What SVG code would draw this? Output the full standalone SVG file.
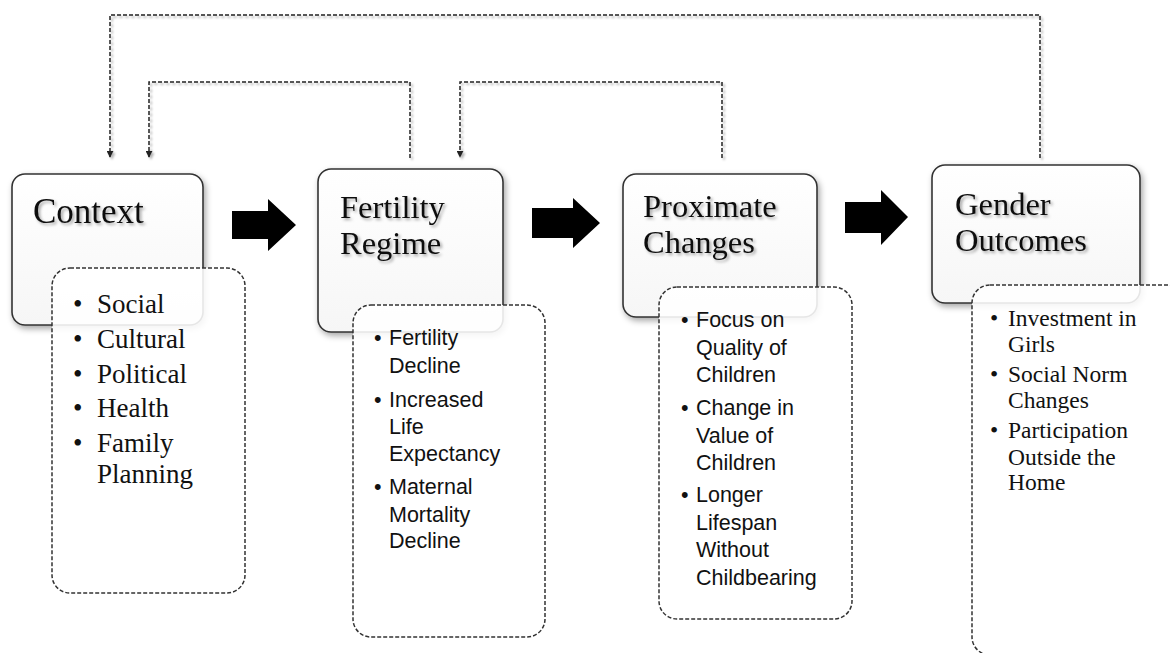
<svg xmlns="http://www.w3.org/2000/svg" width="1170" height="653" viewBox="0 0 1170 653">
<defs>
<filter id="shadow" x="-10%" y="-10%" width="130%" height="130%">
<feDropShadow dx="2" dy="3" stdDeviation="3" flood-color="#000" flood-opacity="0.35"/>
</filter>
<filter id="tshadow" x="-10%" y="-20%" width="130%" height="150%">
<feDropShadow dx="2" dy="2" stdDeviation="1.5" flood-color="#000" flood-opacity="0.35"/>
</filter>
<filter id="lshadow" x="-5%" y="-50%" width="110%" height="200%">
<feDropShadow dx="2" dy="2" stdDeviation="1" flood-color="#000" flood-opacity="0.3"/>
</filter>
<marker id="ah" viewBox="0 0 10 10" refX="9" refY="5" markerWidth="7" markerHeight="7" markerUnits="userSpaceOnUse" orient="auto">
<path d="M0,0 L10,5 L0,10 z" fill="#222"/>
</marker>
<linearGradient id="boxfill" x1="0" y1="0" x2="0" y2="1">
<stop offset="0" stop-color="#ffffff"/>
<stop offset="1" stop-color="#f6f6f6"/>
</linearGradient>
</defs>
<style>
.box{fill:url(#boxfill);stroke:#333;stroke-width:1.6;filter:url(#shadow)}
.dbox{fill:#fff;fill-opacity:0.88;stroke:#333;stroke-width:1.5;stroke-dasharray:4 2}
.title{font-family:"Liberation Serif","Times New Roman",serif;font-size:32.5px;fill:#111;filter:url(#tshadow)}
.title1{font-family:"Liberation Serif","Times New Roman",serif;font-size:35px;fill:#111;filter:url(#tshadow)}
.serif{font-family:"Liberation Serif","Times New Roman",serif;font-size:27px;fill:#111}
.serif2{font-family:"Liberation Serif","Times New Roman",serif;font-size:23.5px;fill:#111}
.sans{font-family:"Liberation Sans",Arial,sans-serif;font-size:21.5px;fill:#111}
.conn{fill:none;stroke:#222;stroke-width:1.5;stroke-dasharray:4 2;filter:url(#lshadow)}
.arrow{fill:#000}
</style>
<rect width="1170" height="653" fill="#fff"/>

<g id="connectors">
<polyline class="conn" points="1040,158 1040,15 110,15 110,157" marker-end="url(#ah)"/>
<polyline class="conn" points="410,158 410,82 149,82 149,157" marker-end="url(#ah)"/>
<polyline class="conn" points="722,158 722,82 460,82 460,157" marker-end="url(#ah)"/>
<path class="arrow" d="M232,211 L268,211 L268,199 L296,225 L268,251 L268,239 L232,239 Z"/>
<path class="arrow" d="M532,208 L573,208 L573,198 L600,223 L573,248 L573,238 L532,238 Z"/>
<path class="arrow" d="M845,202 L881,202 L881,190 L908,217 L881,245 L881,233 L845,233 Z"/>
</g>

<g id="context">
<rect class="box" x="12" y="174" width="191" height="151" rx="13"/>
<text class="title1" x="33" y="223">Context</text>
<rect class="dbox" x="52" y="268" width="193" height="325" rx="18"/>
<g class="serif">
<text x="73" y="313">•</text><text x="97" y="313">Social</text>
<text x="73" y="348">•</text><text x="97" y="348">Cultural</text>
<text x="73" y="383">•</text><text x="97" y="383">Political</text>
<text x="73" y="417">•</text><text x="97" y="417">Health</text>
<text x="73" y="452">•</text><text x="97" y="452">Family</text>
<text x="97" y="483">Planning</text>
</g>
</g>

<g id="fertility">
<rect class="box" x="318" y="169" width="185" height="163" rx="13"/>
<text class="title" x="340" y="218">Fertility</text>
<text class="title" x="340" y="254">Regime</text>
<rect class="dbox" x="353" y="305" width="192" height="332" rx="18"/>
<g class="sans">
<text x="374" y="345">•</text><text x="389" y="345">Fertility</text>
<text x="389" y="373">Decline</text>
<text x="374" y="407">•</text><text x="389" y="407">Increased</text>
<text x="389" y="434">Life</text>
<text x="389" y="461">Expectancy</text>
<text x="374" y="494">•</text><text x="389" y="494">Maternal</text>
<text x="389" y="522">Mortality</text>
<text x="389" y="548">Decline</text>
</g>
</g>

<g id="proximate">
<rect class="box" x="623" y="174" width="194" height="143" rx="13"/>
<text class="title" x="643" y="217">Proximate</text>
<text class="title" x="643" y="253">Changes</text>
<rect class="dbox" x="659" y="287" width="193" height="332" rx="18"/>
<g class="sans">
<text x="681" y="327">•</text><text x="696" y="327">Focus on</text>
<text x="696" y="355">Quality of</text>
<text x="696" y="382">Children</text>
<text x="681" y="415">•</text><text x="696" y="415">Change in</text>
<text x="696" y="443">Value of</text>
<text x="696" y="470">Children</text>
<text x="681" y="502">•</text><text x="696" y="502">Longer</text>
<text x="696" y="530">Lifespan</text>
<text x="696" y="557">Without</text>
<text x="696" y="585">Childbearing</text>
</g>
</g>

<g id="gender">
<rect class="box" x="932" y="165" width="208" height="138" rx="13"/>
<text class="title" x="955" y="215">Gender</text>
<text class="title" x="955" y="251">Outcomes</text>
<rect class="dbox" x="972" y="285" width="215" height="370" rx="18"/>
<g class="serif2">
<text x="990" y="326">•</text><text x="1008" y="326">Investment in</text>
<text x="1008" y="352">Girls</text>
<text x="990" y="382">•</text><text x="1008" y="382">Social Norm</text>
<text x="1008" y="408">Changes</text>
<text x="990" y="438">•</text><text x="1008" y="438">Participation</text>
<text x="1008" y="465">Outside the</text>
<text x="1008" y="490">Home</text>
</g>
</g>
</svg>
